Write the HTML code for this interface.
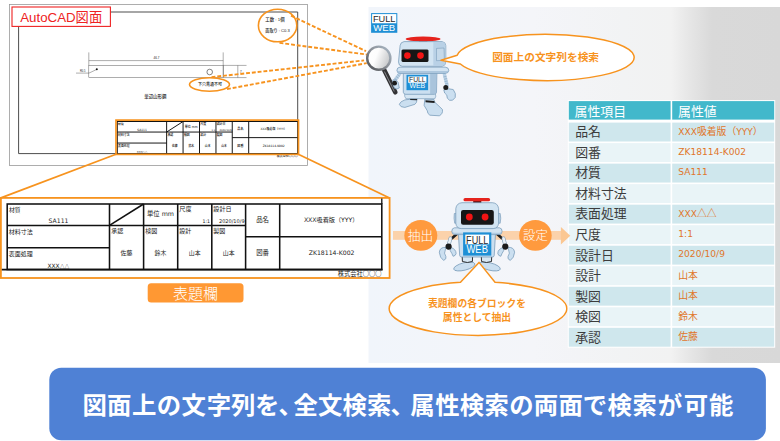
<!DOCTYPE html>
<html lang="ja"><head><meta charset="utf-8"><title>AutoCAD図面 属性抽出</title>
<style>
html,body{margin:0;padding:0;background:#fff;}
body{width:780px;height:441px;overflow:hidden;font-family:"Liberation Sans","Noto Sans CJK JP",sans-serif;}
svg{display:block}
</style></head><body>
<svg width="780" height="441" viewBox="0 0 780 441">
<defs>
<linearGradient id="panel" x1="0" y1="0" x2="1" y2="0">
<stop offset="0" stop-color="#f1f5fb"/><stop offset="0.4" stop-color="#f4f5f9"/><stop offset="0.62" stop-color="#f2f3f4"/><stop offset="0.735" stop-color="#f2f2f2"/><stop offset="0.78" stop-color="#e6e6e6"/><stop offset="0.835" stop-color="#d9d9d9"/><stop offset="1" stop-color="#d8d8d8"/>
</linearGradient>
<linearGradient id="ring" x1="1" y1="0" x2="0" y2="1">
<stop offset="0" stop-color="#a9b8c6"/><stop offset="0.5" stop-color="#8a8f96"/><stop offset="1" stop-color="#4a4c50"/>
</linearGradient>
<linearGradient id="lens" x1="0" y1="0.2" x2="1" y2="0.6">
<stop offset="0" stop-color="#ffffff"/><stop offset="0.4" stop-color="#fdfdfd"/><stop offset="1" stop-color="#c4c6c8"/>
</linearGradient>
</defs>
<rect x="0" y="0" width="780" height="441" fill="#fff"/>
<!-- right panel -->
<rect x="368.5" y="7" width="411.5" height="356" fill="url(#panel)"/>

<!-- drawing sheet -->
<rect x="9.5" y="4.5" width="298" height="161" fill="#fff" stroke="#9a9a9a" stroke-width="0.8"/>
<path d="M18.6 153.6 L18.6 12 L297.7 12 L297.7 153.6 Z" fill="none" stroke="#444" stroke-width="0.95"/>
<!-- part -->
<g stroke="#5c5c5c" stroke-width="0.5" fill="none">
<rect x="88.8" y="65.4" width="134.4" height="12.2"/>
<line x1="88.8" y1="52.4" x2="88.8" y2="65.4"/><line x1="223.2" y1="52.4" x2="223.2" y2="77.6"/>
<line x1="88.8" y1="60.6" x2="223.2" y2="60.6"/>
<line x1="223.2" y1="65.4" x2="246.5" y2="65.4"/><line x1="223.2" y1="77.6" x2="246.5" y2="77.6"/>
<line x1="237.8" y1="65.4" x2="237.8" y2="77.6"/>
<circle cx="209.7" cy="72" r="2.8" stroke="#333" stroke-width="0.6"/>
<path d="M96.8 69.4 L89 73.1 L76 73.1"/>
</g>
<circle cx="96.8" cy="69.3" r="1" fill="#111"/>
<g font-family='"Liberation Sans","Noto Sans CJK JP",sans-serif' fill="#1a1a1a" font-weight="500">
<text x="156.5" y="58.6" font-size="3" text-anchor="middle">46.7</text>
<text x="80" y="72.3" font-size="2.6">R0.5</text>
<text x="240" y="72.5" font-size="3">7</text>
<text x="155.3" y="97.6" font-size="4.4" text-anchor="middle">単辺山形鋼</text>
<text x="210" y="86.1" font-size="4" text-anchor="middle">下穴貫通不可</text>
<text x="265.3" y="21.1" font-size="4.4">工数 : 1個</text>
<text x="265.3" y="31.8" font-size="4.4" textLength="24.5" lengthAdjust="spacingAndGlyphs">面取り : C0.3</text>
</g>
<!-- small title block -->
<g transform="translate(117.3 121.5) scale(0.4822 0.4931) translate(-7.2 -204)">
<g stroke="#111" stroke-width="2.0" fill="none">
<rect x="7.2" y="204.0" width="374.6" height="65.5"/>
<line x1="109.5" y1="204.0" x2="109.5" y2="269.5"/>
<line x1="143.6" y1="204.0" x2="143.6" y2="269.5"/>
<line x1="177.7" y1="204.0" x2="177.7" y2="269.5"/>
<line x1="211.8" y1="204.0" x2="211.8" y2="269.5"/>
<line x1="245.6" y1="204.0" x2="245.6" y2="269.5"/>
<line x1="279.7" y1="204.0" x2="279.7" y2="269.5"/>
<line x1="7.2" y1="225.4" x2="245.6" y2="225.4"/>
<line x1="7.2" y1="247.7" x2="109.5" y2="247.7"/>
<line x1="245.6" y1="236.7" x2="381.8" y2="236.7"/>
<line x1="109.5" y1="225.4" x2="143.6" y2="204.0"/>
</g>
<g font-family='"DejaVu Sans","Noto Sans CJK JP",sans-serif' fill="#000" font-weight="500">
<text x="8.9" y="211.9" font-size="5.8" text-anchor="start">材質</text>
<text x="58.5" y="222.9" font-size="6.1" text-anchor="middle">SA111</text>
<text x="8.8" y="234" font-size="6.0" text-anchor="start">材料寸法</text>
<text x="8.8" y="256.3" font-size="6.0" text-anchor="start">表面処理</text>
<text x="58.5" y="267.6" font-size="5.9" text-anchor="middle">XXX<tspan font-family='Noto Sans CJK JP' font-size='4.9'>△△</tspan></text>
<text x="160.5" y="216.3" font-size="6.3" text-anchor="middle">単位 mm</text>
<text x="179.3" y="211.4" font-size="6.1" text-anchor="start">尺度</text>
<text x="210" y="223" font-size="4.7" text-anchor="end">1:1</text>
<text x="213.3" y="211.4" font-size="6.1" text-anchor="start">設計日</text>
<text x="244.6" y="223" font-size="5.0" text-anchor="end">2020/10/9</text>
<text x="111.3" y="233.2" font-size="6.0" text-anchor="start">承認</text>
<text x="145.3" y="233.2" font-size="6.0" text-anchor="start">検図</text>
<text x="179.3" y="233.2" font-size="6.0" text-anchor="start">設計</text>
<text x="213.3" y="233.2" font-size="6.0" text-anchor="start">製図</text>
<text x="126.5" y="255.4" font-size="5.9" text-anchor="middle">佐藤</text>
<text x="160.5" y="255.4" font-size="5.9" text-anchor="middle">鈴木</text>
<text x="194.7" y="255.4" font-size="5.9" text-anchor="middle">山本</text>
<text x="228.7" y="255.4" font-size="5.9" text-anchor="middle">山本</text>
<text x="262.6" y="222.1" font-size="6.4" text-anchor="middle">品名</text>
<text x="262.6" y="255.1" font-size="6.4" text-anchor="middle">図番</text>
<text x="331.2" y="222.0" font-size="6.15" text-anchor="middle">XXX吸着版（YYY）</text>
<text x="331.6" y="255.0" font-size="6.15" text-anchor="middle">ZK18114-K002</text>
<text x="381.6" y="276.2" font-size="6.25" text-anchor="end">株式会社<tspan font-family='Noto Sans CJK JP' font-weight='700'>○○○</tspan></text>
</g>
</g>
<!-- orange highlights -->
<g fill="none" stroke="#f7931e">
<ellipse cx="277.6" cy="25.5" rx="19.2" ry="16.3" stroke-width="1.6"/>
<ellipse cx="209.5" cy="84.5" rx="20" ry="6.7" stroke-width="1.6"/>
<rect x="116" y="120.1" width="182.5" height="34.3" stroke-width="1.7"/>
<g stroke-width="1.9" stroke-dasharray="3.9 1.9">
<line x1="291" y1="15.7" x2="366" y2="51.2"/>
<line x1="279.5" y1="42.9" x2="367.3" y2="54.6"/>
<line x1="211.5" y1="77.1" x2="364.1" y2="60.4"/>
<line x1="227" y1="89.1" x2="366.7" y2="63.1"/>
</g>
</g>
<!-- enlarged title block -->
<rect x="0.9" y="197.9" width="388.7" height="80.1" fill="#fff" stroke="#f7931e" stroke-width="1.8"/>
<line x1="116" y1="154.2" x2="0.9" y2="197.9" stroke="#f7931e" stroke-width="1.7"/>
<line x1="298.3" y1="154.2" x2="389.6" y2="198" stroke="#f7931e" stroke-width="1.7"/>
<line x1="1.8" y1="269.6" x2="382.5" y2="269.6" stroke="#111" stroke-width="1.9"/>
<line x1="381.8" y1="198.4" x2="381.8" y2="204" stroke="#111" stroke-width="1.3"/>
<g stroke="#111" stroke-width="1.55" fill="none">
<rect x="7.2" y="204.0" width="374.6" height="65.5"/>
<line x1="109.5" y1="204.0" x2="109.5" y2="269.5"/>
<line x1="143.6" y1="204.0" x2="143.6" y2="269.5"/>
<line x1="177.7" y1="204.0" x2="177.7" y2="269.5"/>
<line x1="211.8" y1="204.0" x2="211.8" y2="269.5"/>
<line x1="245.6" y1="204.0" x2="245.6" y2="269.5"/>
<line x1="279.7" y1="204.0" x2="279.7" y2="269.5"/>
<line x1="7.2" y1="225.4" x2="245.6" y2="225.4"/>
<line x1="7.2" y1="247.7" x2="109.5" y2="247.7"/>
<line x1="245.6" y1="236.7" x2="381.8" y2="236.7"/>
<line x1="109.5" y1="225.4" x2="143.6" y2="204.0"/>
</g>
<g font-family='"DejaVu Sans","Noto Sans CJK JP",sans-serif' fill="#222" font-weight="400">
<text x="8.9" y="211.9" font-size="5.8" text-anchor="start">材質</text>
<text x="58.5" y="222.9" font-size="6.1" text-anchor="middle">SA111</text>
<text x="8.8" y="234" font-size="6.0" text-anchor="start">材料寸法</text>
<text x="8.8" y="256.3" font-size="6.0" text-anchor="start">表面処理</text>
<text x="58.5" y="267.6" font-size="5.9" text-anchor="middle">XXX<tspan font-family='Noto Sans CJK JP' font-size='4.9'>△△</tspan></text>
<text x="160.5" y="216.3" font-size="6.3" text-anchor="middle">単位 mm</text>
<text x="179.3" y="211.4" font-size="6.1" text-anchor="start">尺度</text>
<text x="210" y="223" font-size="4.7" text-anchor="end">1:1</text>
<text x="213.3" y="211.4" font-size="6.1" text-anchor="start">設計日</text>
<text x="244.6" y="223" font-size="5.0" text-anchor="end">2020/10/9</text>
<text x="111.3" y="233.2" font-size="6.0" text-anchor="start">承認</text>
<text x="145.3" y="233.2" font-size="6.0" text-anchor="start">検図</text>
<text x="179.3" y="233.2" font-size="6.0" text-anchor="start">設計</text>
<text x="213.3" y="233.2" font-size="6.0" text-anchor="start">製図</text>
<text x="126.5" y="255.4" font-size="5.9" text-anchor="middle">佐藤</text>
<text x="160.5" y="255.4" font-size="5.9" text-anchor="middle">鈴木</text>
<text x="194.7" y="255.4" font-size="5.9" text-anchor="middle">山本</text>
<text x="228.7" y="255.4" font-size="5.9" text-anchor="middle">山本</text>
<text x="262.6" y="222.1" font-size="6.4" text-anchor="middle">品名</text>
<text x="262.6" y="255.1" font-size="6.4" text-anchor="middle">図番</text>
<text x="331.2" y="222.0" font-size="6.15" text-anchor="middle">XXX吸着版（YYY）</text>
<text x="331.6" y="255.0" font-size="6.15" text-anchor="middle">ZK18114-K002</text>
<text x="381.6" y="276.2" font-size="6.25" text-anchor="end">株式会社<tspan font-family='Noto Sans CJK JP' font-weight='700'>○○○</tspan></text>
</g>
<!-- label -->
<rect x="147.7" y="283.3" width="95.8" height="19.1" rx="3.5" fill="#ff9833"/>
<text x="195.6" y="298.6" font-size="15" font-weight="300" text-anchor="middle" fill="#fff" font-family='"Liberation Sans","Noto Sans CJK JP",sans-serif'>表題欄</text>
<!-- AutoCAD label -->
<rect x="12" y="7" width="98.4" height="19.4" fill="#fff" stroke="#ee2222" stroke-width="1.1"/>
<text x="20.2" y="21.6" font-size="13.3" fill="#ee2222" font-family='"Liberation Sans","Noto Sans CJK JP",sans-serif'>AutoCAD図面</text>

<!-- arrow band -->
<rect x="393" y="231" width="169" height="8.8" fill="#fbd2ab"/>
<ellipse cx="420.8" cy="235.4" rx="16.5" ry="15.4" fill="#ff9a3e"/>
<ellipse cx="535.4" cy="235.4" rx="16.3" ry="15.4" fill="#ff9a3e"/>
<text x="420.4" y="240.2" font-size="12.7" font-weight="300" text-anchor="middle" fill="#fff" font-family='"Liberation Sans","Noto Sans CJK JP",sans-serif'>抽出</text>
<text x="535.4" y="240.2" font-size="12.4" font-weight="300" text-anchor="middle" fill="#fff" font-family='"Liberation Sans","Noto Sans CJK JP",sans-serif'>設定</text>

<g>
<rect x="371.1" y="13.1" width="26.2" height="19.7" fill="#1e8fd5"/>
<rect x="372.1" y="14.1" width="24.2" height="9.15" fill="#fff"/>
<text x="384.20000000000005" y="22.45" font-size="9.6" text-anchor="middle" fill="#2a2a2a" font-family='"Liberation Sans","Noto Sans CJK JP",sans-serif' textLength="22.599999999999998" lengthAdjust="spacingAndGlyphs">FULL</text>
<text x="384.20000000000005" y="31.4" font-size="9.6" text-anchor="middle" fill="#fff" font-family='"Liberation Sans","Noto Sans CJK JP",sans-serif' textLength="21.8" lengthAdjust="spacingAndGlyphs">WEB</text>
</g>
<g stroke-linejoin="round">
<!-- right leg / foot -->
<path d="M 424.9 98.9 L 433.9 99.5 L 434.9 102.3 L 442.4 109.4 Q 443.2 113.8 439.3 115.8 L 429.9 115.2 Q 427.3 113.8 427.3 110.8 L 424.1 105.4 Z" fill="#cbdff0" stroke="#6f93b3" stroke-width="0.7"/>
<path d="M 425.5 100.3 L 434.3 101.1 L 434.7 103.1 L 425.5 102.3 Z" fill="#1c1c1c"/>
<!-- left leg / foot -->
<path d="M 409.3 97.5 L 417.3 97.5 L 416.5 102.3 L 414.9 104.3 L 404.9 107.4 Q 400.1 107.4 399.3 104.3 Q 400.1 101.5 404.9 99.9 L 409.7 99.3 Z" fill="#cbdff0" stroke="#6f93b3" stroke-width="0.7"/>
<path d="M 410.1 98.3 L 417.3 98.5 L 416.9 100.3 L 410.1 100.1 Z" fill="#1c1c1c"/>
<!-- pelvis -->
<path d="M 404.9 93.5 L 435.3 93.5 Q 436.5 96.3 434.9 98.7 L 405.9 98.7 Q 403.9 96.3 404.9 93.5 Z" fill="#d6e6f3" stroke="#6f93b3" stroke-width="0.6"/>
<!-- right arm -->
<path d="M 444.4 74.3 L 447.2 85.9" stroke="#b9d1e6" stroke-width="3.4" fill="none" stroke-linecap="round"/>
<line x1="446.6" y1="76.2" x2="443.3" y2="77.0" stroke="#7d9cb8" stroke-width="0.5"/><line x1="447.2" y1="78.5" x2="443.9" y2="79.3" stroke="#7d9cb8" stroke-width="0.5"/><line x1="447.7" y1="80.9" x2="444.4" y2="81.7" stroke="#7d9cb8" stroke-width="0.5"/><line x1="448.3" y1="83.2" x2="445.0" y2="84.0" stroke="#7d9cb8" stroke-width="0.5"/>
<path d="M 443.8 89.9 Q 448.8 87.9 453.2 89.5 Q 456.4 93.5 455.2 97.5 Q 452.8 101.5 449.6 100.3 Q 446.4 98.7 446.8 95.1 Q 444.0 93.5 443.8 89.9 Z" fill="#cbdff0" stroke="#6f93b3" stroke-width="0.7"/>
<circle cx="445.8" cy="87.4" r="2.5" fill="#1c1c1c"/>
<!-- left arm -->
<path d="M 399.9 73.5 L 394.5 81.1" stroke="#b9d1e6" stroke-width="3.4" fill="none" stroke-linecap="round"/>
<line x1="399.9" y1="76.4" x2="397.2" y2="74.4" stroke="#7d9cb8" stroke-width="0.5"/><line x1="398.6" y1="78.3" x2="395.8" y2="76.3" stroke="#7d9cb8" stroke-width="0.5"/><line x1="397.2" y1="80.2" x2="394.5" y2="78.2" stroke="#7d9cb8" stroke-width="0.5"/>
<!-- body -->
<path d="M 403.3 72.3 L 436.9 72.3 L 436.5 92.3 Q 436.1 94.3 434.1 94.3 L 405.7 94.3 Q 403.7 94.3 403.3 92.3 Z" fill="#cbdff0" stroke="#6f93b3" stroke-width="0.7"/>
<path d="M 430.1 72.7 L 436.9 72.7 L 436.5 92.3 Q 436.1 93.9 434.1 93.9 L 430.1 93.9 Z" fill="#9dbbd6" opacity="0.75"/>
<!-- shoulder bar -->
<path d="M 400.1 67.1 L 445.2 67.1 Q 448.8 67.5 448.8 70.3 Q 448.8 73.1 445.2 73.5 L 400.1 73.5 Q 396.9 73.1 396.9 70.3 Q 396.9 67.5 400.1 67.1 Z" fill="#d3e4f2" stroke="#6f93b3" stroke-width="0.7"/>
<path d="M 400.1 71.1 L 445.2 71.1 Q 448.0 71.1 448.6 69.9 Q 448.8 73.1 445.2 73.3 L 400.1 73.3 Q 396.9 73.1 397.1 69.9 Q 397.7 71.1 400.1 71.1 Z" fill="#9dbbd6" opacity="0.7"/>
<!-- head -->
<path d="M 418.9 38.8 L 427.3 38.8 L 427.3 41.6 L 418.9 41.6 Z" fill="#5a1512"/>
<ellipse cx="423.1" cy="39" rx="17.4" ry="2.45" fill="#e5231d"/>
<path d="M 404.1 41.6 L 442.0 41.6 Q 445.6 42.0 445.8 45.6 L 445.8 61.9 Q 445.6 65.9 442.0 66.3 L 402.1 66.3 Q 398.5 65.9 398.5 61.9 L 400.1 45.6 Q 400.5 42.0 404.1 41.6 Z" fill="#d2e4f2" stroke="#6f93b3" stroke-width="0.7"/>
<path d="M 433.3 42.0 L 442.0 42.0 Q 445.2 42.4 445.4 45.6 L 445.4 61.9 Q 445.2 65.5 442.0 65.9 L 433.3 65.9 Z" fill="#b9d1e6"/>
<path d="M 436.5 48.4 L 444.0 48.0 L 444.4 60.3 L 436.5 60.7 Z" fill="#c5d9ea" stroke="#6f93b3" stroke-width="0.5"/>
<path d="M 402.9 49.4 L 427.3 49.4 Q 428.5 49.6 428.5 50.8 L 428.5 60.3 Q 428.5 61.9 427.3 61.9 L 402.9 61.9 Q 401.5 61.9 401.5 60.3 L 401.5 50.8 Q 401.5 49.6 402.9 49.4 Z" fill="#161616"/>
<circle cx="407.4" cy="55.6" r="3.3" fill="#f21414"/>
<circle cx="420.5" cy="55.6" r="3.3" fill="#f21414"/>
<g>
<rect x="406.5" y="74.8" width="21.6" height="15.4" fill="#1e8fd5"/>
<rect x="408.2" y="76.5" width="18.200000000000003" height="6.3" fill="#fff"/>
<text x="417.3" y="82.0" font-size="7.2" text-anchor="middle" fill="#2a2a2a" font-family='"Liberation Sans","Noto Sans CJK JP",sans-serif' textLength="16.6" lengthAdjust="spacingAndGlyphs">FULL</text>
<text x="417.3" y="88.1" font-size="7.2" text-anchor="middle" fill="#fff" font-family='"Liberation Sans","Noto Sans CJK JP",sans-serif' textLength="15.800000000000002" lengthAdjust="spacingAndGlyphs">WEB</text>
</g>
<!-- magnifier -->
<path d="M 384.2 69.9 L 395.3 92.3" stroke="#333335" stroke-width="4.6" stroke-linecap="round" fill="none"/>
<path d="M 384.6 71.9 L 394.1 91.1" stroke="#8d8f94" stroke-width="0.9" stroke-linecap="round" fill="none"/>
<circle cx="378.8" cy="58.2" r="11.6" fill="url(#lens)" stroke="url(#ring)" stroke-width="2.4"/>
<!-- left hand -->
<path d="M 392.9 79.9 Q 396.5 79.1 398.1 82.3 L 399.3 87.9 Q 396.9 89.9 394.5 88.3 Q 392.1 85.1 392.9 79.9 Z" fill="#cbdff0" stroke="#6f93b3" stroke-width="0.7"/>
<circle cx="394.6" cy="83.2" r="2.4" fill="#1c1c1c"/>
</g>
<g stroke-linejoin="round">
<!-- feet -->
<ellipse cx="464.3" cy="266.5" rx="10.9" ry="3.7" transform="rotate(-14 464.3 266.5)" fill="#cbdff0" stroke="#6f93b3" stroke-width="0.7"/>
<ellipse cx="489.7" cy="266.5" rx="10.9" ry="3.7" transform="rotate(14 489.7 266.5)" fill="#cbdff0" stroke="#6f93b3" stroke-width="0.7"/>
<!-- legs -->
<path d="M 462.2 256.2 L 472.6 256.2 L 472.4 261.5 Q 467.4 263.5 462.4 261.5 Z" fill="#d6e6f3" stroke="#1c1c1c" stroke-width="0.9"/>
<path d="M 491.7 256.2 L 481.3 256.2 L 481.5 261.5 Q 486.5 263.5 491.5 261.5 Z" fill="#d6e6f3" stroke="#1c1c1c" stroke-width="0.9"/>
<!-- arms -->
<path d="M 456.5 234.3 L 452.0 238.2" stroke="#1c1c1c" stroke-width="2.6" fill="none" stroke-linecap="round"/>
<path d="M 497.4 234.3 L 501.9 238.2" stroke="#1c1c1c" stroke-width="2.6" fill="none" stroke-linecap="round"/>
<path d="M 450.4 238.4 L 448.8 244.5" stroke="#7f9cb6" stroke-width="3.8" fill="none" stroke-linecap="round"/>
<path d="M 503.5 238.4 L 505.1 244.5" stroke="#7f9cb6" stroke-width="3.8" fill="none" stroke-linecap="round"/>
<path d="M 450.4 238.4 L 448.8 244.5" stroke="#e9f1f8" stroke-width="2.6" fill="none" stroke-linecap="round"/>
<path d="M 503.5 238.4 L 505.1 244.5" stroke="#e9f1f8" stroke-width="2.6" fill="none" stroke-linecap="round"/>
<path d="M 446.1 247.4 Q 440.0 246.8 439.3 252.2 Q 439.8 258.1 443.6 260.4 Q 446.8 259.2 445.9 256.5 Q 443.4 253.3 445.4 249.7 Z" fill="#cbdff0" stroke="#6f93b3" stroke-width="0.7"/>
<path d="M 507.8 247.4 Q 513.9 246.8 514.6 252.2 Q 514.1 258.1 510.3 260.4 Q 507.1 259.2 508.0 256.5 Q 510.5 253.3 508.5 249.7 Z" fill="#cbdff0" stroke="#6f93b3" stroke-width="0.7"/>
<path d="M 450.9 247.4 Q 456.1 249.3 456.1 253.6 Q 455.6 255.8 453.1 256.3 Q 452.0 253.3 450.2 250.6 Z" fill="#cbdff0" stroke="#6f93b3" stroke-width="0.7"/>
<path d="M 503.0 247.4 Q 497.8 249.3 497.8 253.6 Q 498.3 255.8 500.8 256.3 Q 501.9 253.3 503.7 250.6 Z" fill="#cbdff0" stroke="#6f93b3" stroke-width="0.7"/>
<circle cx="448.6" cy="246.6" r="3.1" fill="#1c1c1c"/>
<circle cx="505.3" cy="246.6" r="3.1" fill="#1c1c1c"/>
<!-- body -->
<path d="M 458.2 230.7 L 495.7 230.7 L 494.2 255.4 Q 494.0 257.0 492.4 257.0 L 461.5 257.0 Q 459.9 257.0 459.7 255.4 Z" fill="#cbdff0" stroke="#6f93b3" stroke-width="0.7"/>
<!-- shoulder -->
<path d="M 454.5 227.8 L 499.4 227.8 Q 502.1 228.2 502.1 231.2 Q 502.1 234.3 499.4 234.6 L 454.5 234.6 Q 451.8 234.3 451.8 231.2 Q 451.8 228.2 454.5 227.8 Z" fill="#d3e4f2" stroke="#6f93b3" stroke-width="0.7"/>
<path d="M 454.5 232.7 L 499.4 232.7 Q 501.4 232.5 502.0 231.2 Q 502.1 234.3 499.4 234.5 L 454.5 234.5 Q 451.8 234.3 451.9 231.2 Q 452.5 232.5 454.5 232.7 Z" fill="#9dbbd6" opacity="0.6"/>
<!-- head -->
<path d="M 473.2 200.0 L 481.3 200.0 L 481.3 203.5 L 473.2 203.5 Z" fill="#5a1512"/>
<rect x="463.5" y="198" width="26.6" height="3.3" rx="1.6" fill="#e5231d"/>
<path d="M 454.3 213.5 Q 453.5 218.1 454.7 223.2 L 457.4 223.2 L 457.4 213.5 Z" fill="#b9d1e6" stroke="#6f93b3" stroke-width="0.6"/>
<path d="M 500.2 213.5 Q 501.3 218.1 500.2 223.2 L 497.5 223.2 L 497.5 213.5 Z" fill="#b9d1e6" stroke="#6f93b3" stroke-width="0.6"/>
<path d="M 462.0 202.7 L 492.4 202.7 Q 497.8 203.1 498.6 208.5 L 498.6 223.2 Q 498.2 228.2 493.2 228.6 L 461.2 228.6 Q 456.2 228.2 455.8 223.2 L 455.8 208.5 Q 456.6 203.1 462.0 202.7 Z" fill="#d2e4f2" stroke="#6f93b3" stroke-width="0.7"/>
<path d="M 463.1 209.9 L 491.7 209.9 Q 493.8 210.0 493.8 212.0 L 493.8 222.4 Q 493.8 224.7 491.7 224.7 L 463.1 224.7 Q 461.0 224.7 461.0 222.4 L 461.0 212.0 Q 461.0 210.0 463.1 209.9 Z" fill="#161616"/>
<circle cx="469.3" cy="217" r="3.4" fill="#f21414"/>
<circle cx="485.1" cy="217" r="3.4" fill="#f21414"/>
<g>
<rect x="463.1" y="232.4" width="28.2" height="23.2" fill="#1e8fd5"/>
<rect x="465.3" y="234.6" width="23.799999999999997" height="9.7" fill="#fff"/>
<text x="477.20000000000005" y="243.5" font-size="10.8" text-anchor="middle" fill="#2a2a2a" font-family='"Liberation Sans","Noto Sans CJK JP",sans-serif' textLength="22.199999999999996" lengthAdjust="spacingAndGlyphs">FULL</text>
<text x="477.20000000000005" y="253.0" font-size="10.8" text-anchor="middle" fill="#fff" font-family='"Liberation Sans","Noto Sans CJK JP",sans-serif' textLength="21.4" lengthAdjust="spacingAndGlyphs">WEB</text>
</g>
</g>
<!-- bubbles -->
<path d="M457.17 55.2 L441.0 60.2 L460.39 64.0 A88.7 23.1 0 1 0 457.17 55.2Z" fill="#fff" stroke="#f7931e" stroke-width="1.5" stroke-linejoin="round"/>
<text x="545.6" y="61.3" font-size="10.7" font-weight="bold" text-anchor="middle" fill="#f7931e" font-family='"Liberation Sans","Noto Sans CJK JP",sans-serif'>図面上の文字列を検索</text>
<path d="M460.5 282.33 L479 262.4 L495 282.30 A88.8 26.8 0 1 1 460.5 282.33Z" fill="#fff" stroke="#f7931e" stroke-width="1.5" stroke-linejoin="round"/>
<text x="477" y="307.4" font-size="9.8" font-weight="bold" text-anchor="middle" fill="#f7931e" font-family='"Liberation Sans","Noto Sans CJK JP",sans-serif'>表題欄の各ブロックを</text>
<text x="477" y="320.6" font-size="9.8" font-weight="bold" text-anchor="middle" fill="#f7931e" font-family='"Liberation Sans","Noto Sans CJK JP",sans-serif'>属性として抽出</text>


<!-- table -->
<rect x="567.8" y="100.1" width="207.4000000000001" height="247.60" fill="#fff"/>
<rect x="568.8" y="101.1" width="101.80000000000007" height="18.50" fill="#42b8cb"/>
<rect x="672.2" y="101.1" width="102.00" height="18.50" fill="#42b8cb"/>
<text x="574.6" y="115.5" font-size="12.9" fill="#fff" font-family='"Liberation Sans","Noto Sans CJK JP",sans-serif'>属性項目</text>
<text x="678.0" y="115.5" font-size="12.9" fill="#fff" font-family='"Liberation Sans","Noto Sans CJK JP",sans-serif'>属性値</text>
<rect x="568.8" y="122.60" width="101.80000000000007" height="18.9" fill="#cfe7ed"/>
<rect x="672.2" y="122.60" width="102.00" height="18.9" fill="#cfe7ed"/>
<text x="575.2" y="136.40" font-size="12.9" fill="#3c3c3c" font-family='"Liberation Sans","Noto Sans CJK JP",sans-serif'>品名</text>
<text x="678.3" y="134.60" font-size="9.1" fill="#e0762a" font-family='"DejaVu Sans","Noto Sans CJK JP",sans-serif'>XXX<tspan font-size="9.8" font-family="Noto Sans CJK JP">吸着版（</tspan>YYY<tspan font-size="9.8" font-family="Noto Sans CJK JP">）</tspan></text>
<rect x="568.8" y="143.12" width="101.80000000000007" height="18.9" fill="#e9f4f7"/>
<rect x="672.2" y="143.12" width="102.00" height="18.9" fill="#e9f4f7"/>
<text x="575.2" y="156.92" font-size="12.9" fill="#3c3c3c" font-family='"Liberation Sans","Noto Sans CJK JP",sans-serif'>図番</text>
<text x="678.3" y="154.52" font-size="9.1" fill="#e0762a" font-family='"DejaVu Sans","Noto Sans CJK JP",sans-serif'>ZK18114-K002</text>
<rect x="568.8" y="163.64" width="101.80000000000007" height="18.9" fill="#cfe7ed"/>
<rect x="672.2" y="163.64" width="102.00" height="18.9" fill="#cfe7ed"/>
<text x="575.2" y="177.44" font-size="12.9" fill="#3c3c3c" font-family='"Liberation Sans","Noto Sans CJK JP",sans-serif'>材質</text>
<text x="678.3" y="175.04" font-size="9.1" fill="#e0762a" font-family='"DejaVu Sans","Noto Sans CJK JP",sans-serif'>SA111</text>
<rect x="568.8" y="184.16" width="101.80000000000007" height="18.9" fill="#e9f4f7"/>
<rect x="672.2" y="184.16" width="102.00" height="18.9" fill="#e9f4f7"/>
<text x="575.2" y="197.96" font-size="12.9" fill="#3c3c3c" font-family='"Liberation Sans","Noto Sans CJK JP",sans-serif'>材料寸法</text>
<rect x="568.8" y="204.68" width="101.80000000000007" height="18.9" fill="#cfe7ed"/>
<rect x="672.2" y="204.68" width="102.00" height="18.9" fill="#cfe7ed"/>
<text x="575.2" y="218.48" font-size="12.9" fill="#3c3c3c" font-family='"Liberation Sans","Noto Sans CJK JP",sans-serif'>表面処理</text>
<text x="678.3" y="216.68" font-size="9.1" fill="#e0762a" font-family='"DejaVu Sans","Noto Sans CJK JP",sans-serif'>XXX<tspan font-size="9.8" font-family="Noto Sans CJK JP">△△</tspan></text>
<rect x="568.8" y="225.20" width="101.80000000000007" height="18.9" fill="#e9f4f7"/>
<rect x="672.2" y="225.20" width="102.00" height="18.9" fill="#e9f4f7"/>
<text x="575.2" y="239.00" font-size="12.9" fill="#3c3c3c" font-family='"Liberation Sans","Noto Sans CJK JP",sans-serif'>尺度</text>
<text x="678.3" y="236.60" font-size="9.1" fill="#e0762a" font-family='"DejaVu Sans","Noto Sans CJK JP",sans-serif'>1:1</text>
<rect x="568.8" y="245.72" width="101.80000000000007" height="18.9" fill="#cfe7ed"/>
<rect x="672.2" y="245.72" width="102.00" height="18.9" fill="#cfe7ed"/>
<text x="575.2" y="259.52" font-size="12.9" fill="#3c3c3c" font-family='"Liberation Sans","Noto Sans CJK JP",sans-serif'>設計日</text>
<text x="678.3" y="257.12" font-size="9.1" fill="#e0762a" font-family='"DejaVu Sans","Noto Sans CJK JP",sans-serif'>2020/10/9</text>
<rect x="568.8" y="266.24" width="101.80000000000007" height="18.9" fill="#e9f4f7"/>
<rect x="672.2" y="266.24" width="102.00" height="18.9" fill="#e9f4f7"/>
<text x="575.2" y="280.04" font-size="12.9" fill="#3c3c3c" font-family='"Liberation Sans","Noto Sans CJK JP",sans-serif'>設計</text>
<text x="678.3" y="278.84" font-size="9.1" fill="#e0762a" font-family='"DejaVu Sans","Noto Sans CJK JP",sans-serif'><tspan font-size="9.8" font-family="Noto Sans CJK JP">山本</tspan></text>
<rect x="568.8" y="286.76" width="101.80000000000007" height="18.9" fill="#cfe7ed"/>
<rect x="672.2" y="286.76" width="102.00" height="18.9" fill="#cfe7ed"/>
<text x="575.2" y="300.56" font-size="12.9" fill="#3c3c3c" font-family='"Liberation Sans","Noto Sans CJK JP",sans-serif'>製図</text>
<text x="678.3" y="299.36" font-size="9.1" fill="#e0762a" font-family='"DejaVu Sans","Noto Sans CJK JP",sans-serif'><tspan font-size="9.8" font-family="Noto Sans CJK JP">山本</tspan></text>
<rect x="568.8" y="307.28" width="101.80000000000007" height="18.9" fill="#e9f4f7"/>
<rect x="672.2" y="307.28" width="102.00" height="18.9" fill="#e9f4f7"/>
<text x="575.2" y="321.08" font-size="12.9" fill="#3c3c3c" font-family='"Liberation Sans","Noto Sans CJK JP",sans-serif'>検図</text>
<text x="678.3" y="319.88" font-size="9.1" fill="#e0762a" font-family='"DejaVu Sans","Noto Sans CJK JP",sans-serif'><tspan font-size="9.8" font-family="Noto Sans CJK JP">鈴木</tspan></text>
<rect x="568.8" y="327.80" width="101.80000000000007" height="18.9" fill="#cfe7ed"/>
<rect x="672.2" y="327.80" width="102.00" height="18.9" fill="#cfe7ed"/>
<text x="575.2" y="341.60" font-size="12.9" fill="#3c3c3c" font-family='"Liberation Sans","Noto Sans CJK JP",sans-serif'>承認</text>
<text x="678.3" y="340.40" font-size="9.1" fill="#e0762a" font-family='"DejaVu Sans","Noto Sans CJK JP",sans-serif'><tspan font-size="9.8" font-family="Noto Sans CJK JP">佐藤</tspan></text>

<path d="M560.9 227 L570.3 235.7 L560.9 244.4Z" fill="#fbc792"/>
<!-- banner -->
<rect x="49.3" y="367.7" width="716.6" height="72.6" rx="12" fill="#4f81d5"/>
<text x="94.7 119.2 144.3 168.9 193.7 219.0 243.3 267.3 290.8 305.7 330.3 354.8 379.3 402.6 422.5 447.4 472.0 496.8 521.5 545.9 570.6 595.0 619.8 644.6 670.0 696.0 721.3" y="413.6" font-size="24.4" font-weight="bold" text-anchor="middle" fill="#fff" font-family='"Liberation Sans","Noto Sans CJK JP",sans-serif'>図面上の文字列を、全文検索、属性検索の両面で検索が可能</text>
</svg>
</body></html>
